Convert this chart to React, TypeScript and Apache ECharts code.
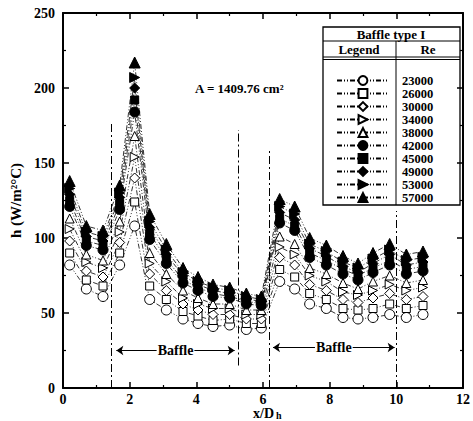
import React, { useEffect, useRef } from "react";
import * as echarts from "echarts";

const xPositions = [0.2, 0.7, 1.2, 1.7, 2.15, 2.6, 3.1, 3.6, 4.05, 4.5, 5.0, 5.5, 5.95, 6.5, 6.95, 7.4, 7.9, 8.4, 8.85, 9.3, 9.8, 10.3, 10.8];

const reynolds = ["23000", "26000", "30000", "34000", "38000", "42000", "45000", "49000", "53000", "57000"];

const h23000 = [82, 66, 61, 82, 108, 59, 52, 46, 43, 41, 42, 39, 40, 71, 66, 56, 53, 47, 46, 47, 49, 47, 49];
const h26000 = [90, 72, 68, 90, 124, 68, 59, 51, 48, 45, 46, 43, 43, 79, 74, 63, 59, 53, 52, 53, 56, 53, 55];
const h30000 = [98, 78, 74, 97, 140, 76, 65, 56, 52, 49, 49, 46, 46, 87, 82, 69, 65, 59, 57, 60, 63, 59, 61];
const h34000 = [106, 84, 80, 104, 154, 83, 71, 60, 56, 53, 53, 49, 49, 94, 89, 75, 71, 64, 62, 65, 69, 65, 67];
const h38000 = [113, 89, 85, 111, 168, 90, 76, 65, 60, 56, 56, 52, 52, 101, 96, 80, 76, 70, 66, 71, 75, 70, 72];
const h42000 = [121, 95, 92, 119, 184, 99, 83, 70, 65, 61, 60, 56, 55, 110, 105, 87, 82, 76, 72, 77, 82, 76, 78];
const h45000 = [125, 98, 95, 123, 192, 103, 86, 72, 67, 63, 61, 58, 56, 113, 108, 90, 85, 79, 75, 80, 85, 79, 81];
const h49000 = [129, 101, 98, 127, 200, 107, 89, 75, 69, 65, 63, 59, 58, 117, 112, 93, 88, 81, 77, 83, 89, 82, 84];
const h53000 = [133, 104, 101, 130, 207, 111, 92, 77, 71, 67, 65, 61, 59, 121, 116, 96, 91, 84, 80, 86, 92, 85, 87];
const h57000 = [138, 108, 105, 135, 217, 116, 96, 80, 74, 69, 67, 63, 61, 126, 121, 100, 95, 88, 83, 90, 96, 89, 91];

const seriesValues = [h23000, h26000, h30000, h34000, h38000, h42000, h45000, h49000, h53000, h57000];

const xTicks = { min: 0, max: 12, interval: 2 };
const yTicks = { min: 0, max: 250, interval: 50 };

// vertical dash-dot lines: [x, yFrom, yTo]
const dividerLines = [
  [1.45, 0, 177],
  [5.25, 15, 172],
  [6.2, 0, 158],
  [10.0, 0, 118],
];
// baffle spans: [xFrom, xTo, y]
const baffleSpans = [
  [1.6, 5.15, 25],
  [6.3, 9.95, 27],
];

const markerStyles = [
  { symbol: "circle", size: 10, rotate: 0, filled: false },
  { symbol: "rect", size: 8, rotate: 0, filled: false },
  { symbol: "diamond", size: 10, rotate: 0, filled: false },
  { symbol: "triangle", size: 9, rotate: -90, filled: false },
  { symbol: "triangle", size: 9, rotate: 0, filled: false },
  { symbol: "circle", size: 10, rotate: 0, filled: true },
  { symbol: "rect", size: 8, rotate: 0, filled: true },
  { symbol: "diamond", size: 10, rotate: 0, filled: true },
  { symbol: "triangle", size: 10, rotate: -90, filled: true },
  { symbol: "triangle", size: 11, rotate: 0, filled: true },
];

const FONT = "Liberation Serif";

export default function App() {
  const ref = useRef<HTMLDivElement>(null);
  useEffect(() => {
    if (!ref.current) return;
    const chart = echarts.init(ref.current, null, { renderer: "svg" });

    const axisCommon = {
      type: "value" as const,
      axisLine: { show: true, onZero: false, lineStyle: { color: "#000", width: 2 } },
      axisTick: { show: true, inside: true, length: 6, lineStyle: { color: "#000", width: 1.5 } },
      minorTick: { show: true, splitNumber: 2, length: 3, lineStyle: { color: "#000", width: 1.2 } },
      splitLine: { show: false },
    };
    const labelStyle = { color: "#000", fontFamily: FONT, fontWeight: "bold" as const, fontSize: 14 };

    const dataSeries = reynolds.map((name, i) => {
      const m = markerStyles[i];
      return {
        name,
        type: "line" as const,
        data: xPositions.map((x, j) => [x, seriesValues[i][j]]),
        symbol: m.symbol,
        symbolSize: m.size,
        symbolRotate: m.rotate,
        lineStyle: { color: "#000", width: 0.8, type: [5, 2, 1, 2, 1, 2] },
        itemStyle: {
          color: m.filled ? "#000" : "#fff",
          borderColor: "#000",
          borderWidth: 1,
        },
        z: 3,
      };
    });

    const annotationSeries = {
      name: "annotations",
      type: "line" as const,
      data: [],
      silent: true,
      markLine: {
        silent: true,
        animation: false,
        data: [
          ...dividerLines.map(([x, y0, y1]) => [
            { coord: [x, y0], symbol: "none", lineStyle: { type: [8, 3, 2, 3], color: "#000", width: 1 }, label: { show: false } },
            { coord: [x, y1], symbol: "none" },
          ]),
          ...baffleSpans.map(([x0, x1, y]) => [
            {
              coord: [x0, y],
              symbol: "arrow",
              lineStyle: { type: "solid", color: "#000", width: 1 },
              label: {
                show: true,
                position: "insideMiddle",
                formatter: "Baffle",
                color: "#000",
                fontFamily: FONT,
                fontWeight: "bold",
                fontSize: 14,
                backgroundColor: "#fff",
                padding: [0, 1],
              },
            },
            { coord: [x1, y], symbol: "arrow" },
          ]),
        ],
        symbolSize: 7,
      },
    };

    chart.setOption({
      animation: false,
      grid: { left: 61, right: 7, top: 13, bottom: 33 },
      xAxis: [
        {
          ...axisCommon,
          ...xTicks,
          position: "bottom",
          axisLabel: { ...labelStyle, margin: 4 },
        },
        {
          ...axisCommon,
          ...xTicks,
          position: "top",
          axisLabel: { show: false },
        },
      ],
      yAxis: [
        {
          ...axisCommon,
          ...yTicks,
          position: "left",
          axisLabel: { ...labelStyle, margin: 8 },
          name: "h (W/m²°C)",
          nameLocation: "middle",
          nameGap: 40,
          nameTextStyle: { ...labelStyle, fontSize: 15 },
        },
        {
          ...axisCommon,
          ...yTicks,
          position: "right",
          axisLabel: { show: false },
        },
      ],
      legend: {
        data: reynolds,
        orient: "vertical",
        left: 336,
        top: 74,
        padding: 0,
        itemWidth: 52,
        itemHeight: 11,
        itemGap: 0,
        selectedMode: false,
        textStyle: { ...labelStyle, fontSize: 12.5, lineHeight: 13, padding: [0, 0, 0, 8] },
      },
      graphic: [
        { type: "rect", shape: { x: 323, y: 27, width: 137, height: 178 }, style: { fill: "none", stroke: "#000", lineWidth: 1.3 }, z: 10 },
        { type: "line", shape: { x1: 323, y1: 41, x2: 460, y2: 41 }, style: { stroke: "#000", lineWidth: 1 }, z: 10 },
        { type: "line", shape: { x1: 323, y1: 57, x2: 460, y2: 57 }, style: { stroke: "#000", lineWidth: 1 }, z: 10 },
        { type: "line", shape: { x1: 323, y1: 59.5, x2: 460, y2: 59.5 }, style: { stroke: "#000", lineWidth: 1 }, z: 10 },
        { type: "line", shape: { x1: 396, y1: 41, x2: 396, y2: 205 }, style: { stroke: "#000", lineWidth: 1 }, z: 10 },
        { type: "text", x: 391, y: 34, style: { text: "Baffle type I", fill: "#000", font: `bold 13px "${FONT}"`, align: "center", verticalAlign: "middle" }, z: 10 },
        { type: "text", x: 359, y: 49.5, style: { text: "Legend", fill: "#000", font: `bold 13px "${FONT}"`, align: "center", verticalAlign: "middle" }, z: 10 },
        { type: "text", x: 428, y: 49.5, style: { text: "Re", fill: "#000", font: `bold 13px "${FONT}"`, align: "center", verticalAlign: "middle" }, z: 10 },
        { type: "text", x: 195, y: 88, style: { text: "A = 1409.76 cm²", fill: "#000", font: `bold 13px "${FONT}"`, align: "left", verticalAlign: "middle" }, z: 10 },
        { type: "text", x: 253, y: 413, style: { text: "x/D", fill: "#000", font: `bold 14px "${FONT}"`, align: "left", verticalAlign: "middle" }, z: 10 },
        { type: "text", x: 276, y: 415, style: { text: "h", fill: "#000", font: `bold 10px "${FONT}"`, align: "left", verticalAlign: "middle" }, z: 10 },
      ],
      series: [...dataSeries, annotationSeries],
    });

    return () => chart.dispose();
  }, []);

  return (
    <div
      ref={ref}
      style={{ position: "fixed", left: 0, top: 0, width: 473, height: 421, background: "#fff" }}
    />
  );
}
